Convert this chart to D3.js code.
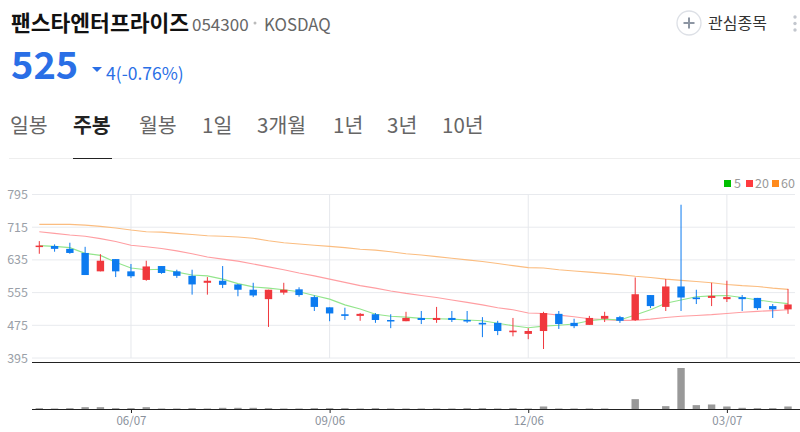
<!DOCTYPE html>
<html>
<head>
<meta charset="utf-8">
<script src="https://cdn.jsdelivr.net/npm/d3@7/dist/d3.min.js"></script>
<style>
  html, body { margin: 0; padding: 0; background: #fff; overflow: hidden; }
  svg { display: block; }
  text { font-family: "Noto Sans CJK KR", "Noto Sans", sans-serif; }
</style>
</head>
<body>
<div id="chart"></div>
<script>
// weekly candles
var weeks = ["04/26","05/03","05/10","05/17","05/24","05/31","06/07","06/14","06/21","06/28",
  "07/05","07/12","07/19","07/26","08/02","08/09","08/16","08/23","08/30","09/06",
  "09/13","09/20","09/27","10/04","10/11","10/18","10/25","11/01","11/08","11/15",
  "11/22","11/29","12/06","12/13","12/20","12/27","01/03","01/10","01/17","01/24",
  "01/31","02/07","02/14","02/21","02/28","03/07","03/14","03/21","03/28","04/04"];
var opens = [667,669,662,652,607,637,607,586,620,607,596,579,584,575,562,539,555,563,544,519,
  502,498,502,488,485,493,488,493,488,481,481,458,454,461,503,481,476,491,495,488,
  549,520,570,543,542,539,544,542,522,514];
var closes = [670,662,652,598,633,607,595,619,603,596,575,584,574,562,548,562,562,549,520,504,
  498,503,488,486,493,488,493,488,486,477,461,462,461,505,478,473,493,498,486,551,
  522,570,543,539,547,544,539,517,514,526];
var highs = [681,673,677,667,649,637,625,633,620,611,611,593,620,576,579,562,579,568,548,519,
  518,505,505,502,508,510,520,510,510,495,486,493,468,508,510,491,498,508,498,592,
  549,588,770,562,579,584,549,542,527,564];
var lows = [650,655,650,598,607,593,591,584,601,591,550,550,566,546,544,471,550,545,510,485,
  488,486,481,468,485,478,481,483,481,446,451,448,441,417,466,468,476,483,481,486,
  517,510,510,527,522,532,510,513,493,503];
var ma5 = [670,668,665,651,646,629,615,611,612,605,598,596,588,577,569,566,562,557,548,539,
  525,515,502,497,495,492,491,490,488,486,480,474,469,473,475,478,486,490,488,500,
  513,529,537,545,547,548,543,537,532,528];
var ma20 = [704,700,696,693,687,680,671,667,663,657,650,642,637,632,625,618,611,603,596,588,
  580,572,566,559,553,548,543,537,531,525,518,513,505,504,500,496,491,489,487,487,
  490,494,497,499,501,504,507,509,511,513];
var ma60 = [722,722,722,720,717,713,708,704,703,700,697,694,693,691,688,682,677,674,671,668,
  665,661,659,655,650,647,643,639,635,631,626,621,616,615,611,608,605,602,599,595,
  592,588,585,582,579,575,572,570,566,563];
var volumes = [4,3,4,7,7,4,4,7,3,3,4,3,5,5,5,4,3,3,4,4,4,3,4,3,
  3,3,3,3,4,4,3,4,3,9,3,3,3,3,1,31,1,10,124,13,15,9,5,4,4,9];
var priceTicks = [395,475,555,635,715,795];
var dateTicks = ["06/07","09/06","12/06","03/07"];
var tabs = ["일봉","주봉","월봉","1일","3개월","1년","3년","10년"];
var tabX = [10,73,139,202,257,333,387,442];
var legendNames = ["5","20","60"];
var legendColors = ["#00c000","#ff3b3f","#ff8a1c"];

var RED = "#f0383d", BLUE = "#0c7bf0";

var svg = d3.select("#chart").append("svg").attr("width", 800).attr("height", 432);

// Header
svg.append("text").attr("x", 11).attr("y", 31).attr("font-size", 21.5).attr("font-weight", 700)
  .attr("fill", "#111").text("팬스타엔터프라이즈");
svg.append("text").attr("x", 192).attr("y", 31).attr("font-size", 17).attr("fill", "#666").text("054300");
svg.append("circle").attr("cx", 255).attr("cy", 23).attr("r", 1.5).attr("fill", "#bbb");
svg.append("text").attr("x", 264).attr("y", 31).attr("font-size", 16.8).attr("fill", "#666").text("KOSDAQ");
svg.append("text").attr("x", 11).attr("y", 79).attr("font-size", 38).attr("font-weight", 700)
  .attr("fill", "#2a6fe6").text("525");
svg.append("path").attr("d", "M92,67L102,67L97,72Z").attr("fill", "#2a6fe6");
svg.append("text").attr("x", 106).attr("y", 80).attr("font-size", 17.5).attr("fill", "#2a6fe6").text("4(-0.76%)");

// Watchlist button
svg.append("circle").attr("cx", 689).attr("cy", 23).attr("r", 12).attr("fill", "#fff")
  .attr("stroke", "#dde0e6").attr("stroke-width", 1.3);
svg.append("path").attr("d", "M683.5,23H694.5M689,17.5V28.5").attr("stroke", "#8d96a3").attr("stroke-width", 2);
svg.append("text").attr("x", 708).attr("y", 29).attr("font-size", 16).attr("fill", "#333").text("관심종목");
svg.selectAll(".more").data([17, 23.5, 30]).enter().append("circle").attr("class", "more")
  .attr("cx", 795).attr("cy", function(d){ return d; }).attr("r", 1.7).attr("fill", "#c3c7ce");

// Tabs
svg.selectAll(".tab").data(tabs).enter().append("text").attr("class", "tab")
  .attr("x", function(d, i){ return tabX[i]; }).attr("y", 133).attr("font-size", 20.5)
  .attr("font-weight", function(d){ return d == "주봉" ? 700 : 400; })
  .attr("fill", function(d){ return d == "주봉" ? "#222" : "#666"; })
  .text(function(d){ return d; });
svg.append("line").attr("x1", 9).attr("x2", 800).attr("y1", 158.5).attr("y2", 158.5).attr("stroke", "#eeeeee");
svg.append("line").attr("x1", 73).attr("x2", 112).attr("y1", 158.5).attr("y2", 158.5).attr("stroke", "#222");

// Legend
var legendSwatch = [724,746,772], legendText = [734,755,781];
legendNames.forEach(function(name, i){
  svg.append("rect").attr("x", legendSwatch[i]).attr("y", 180).attr("width", 7).attr("height", 7).attr("fill", legendColors[i]);
  svg.append("text").attr("x", legendText[i]).attr("y", 188).attr("font-size", 12.5).attr("fill", "#999").text(name);
});

// Scales
var x = d3.scalePoint().domain(weeks).range([39.3, 788]);
var y = d3.scaleLinear().domain([395, 795]).range([358, 194.5]);
var yVol = d3.scaleLinear().domain([0, d3.max(volumes)]).range([409.5, 368]);

// Grid
svg.selectAll(".hgrid").data(priceTicks).enter().append("line").attr("class", "hgrid")
  .attr("x1", 32).attr("x2", 795)
  .attr("y1", function(d){ return y(d); }).attr("y2", function(d){ return y(d); })
  .attr("stroke", "#e8eaee");
svg.selectAll(".vgrid").data(dateTicks).enter().append("line").attr("class", "vgrid")
  .attr("x1", function(d){ return x(d); }).attr("x2", function(d){ return x(d); })
  .attr("y1", 194.5).attr("y2", 358).attr("stroke", "#e6e8ec");

// Price labels
var yAxis = svg.append("g").attr("transform", "translate(29,0)")
  .call(d3.axisLeft(y).tickValues(priceTicks).tickSize(0).tickPadding(1));
yAxis.select(".domain").remove();
yAxis.selectAll("text").attr("font-size", 12.5).attr("fill", "#9a9fa8").style("font-family", "'Noto Sans CJK KR'");

// Moving averages
var lineOf = function(values){
  return d3.line().x(function(d, i){ return x(weeks[i]); }).y(function(d){ return y(d); })(values);
};
[[ma60, "#fbbd80"], [ma20, "#ff9ea2"], [ma5, "#93e58c"]].forEach(function(s){
  svg.append("path").attr("d", lineOf(s[0])).attr("fill", "none").attr("stroke", s[1]).attr("stroke-width", 1.1);
});

// Candles
var candle = svg.selectAll(".candle").data(weeks).enter().append("g").attr("class", "candle");
var candleColor = function(d, i){ return closes[i] >= opens[i] ? RED : BLUE; };
candle.append("line")
  .attr("x1", function(d){ return x(d); }).attr("x2", function(d){ return x(d); })
  .attr("y1", function(d, i){ return y(highs[i]); }).attr("y2", function(d, i){ return y(lows[i]); })
  .attr("stroke", candleColor).attr("stroke-width", 1);
candle.append("rect")
  .attr("x", function(d){ return x(d) - 3.7; }).attr("width", 7.4)
  .attr("y", function(d, i){ return y(Math.max(opens[i], closes[i])); })
  .attr("height", function(d, i){ return Math.max(1.5, Math.abs(y(opens[i]) - y(closes[i]))); })
  .attr("fill", candleColor);

// Volume
svg.selectAll(".vol").data(weeks).enter().append("rect").attr("class", "vol")
  .attr("x", function(d){ return x(d) - 3.7; }).attr("width", 7.4)
  .attr("y", function(d, i){ return yVol(volumes[i]); })
  .attr("height", function(d, i){ return yVol(0) - yVol(volumes[i]); })
  .attr("fill", "#999");

// Panel lines and date axis
svg.append("line").attr("x1", 32).attr("x2", 800).attr("y1", 362.5).attr("y2", 362.5).attr("stroke", "#222");
var xAxis = svg.append("g").attr("transform", "translate(0,409.5)")
  .call(d3.axisBottom(x).tickValues(dateTicks).tickSize(3.5).tickPadding(4));
xAxis.select(".domain").attr("d", "M32,0H800").attr("stroke", "#222");
xAxis.selectAll(".tick line").attr("stroke", "#222");
xAxis.selectAll("text").attr("font-size", 11.5).attr("fill", "#8a919c").style("font-family", "'Noto Sans CJK KR'");
</script>
</body>
</html>
